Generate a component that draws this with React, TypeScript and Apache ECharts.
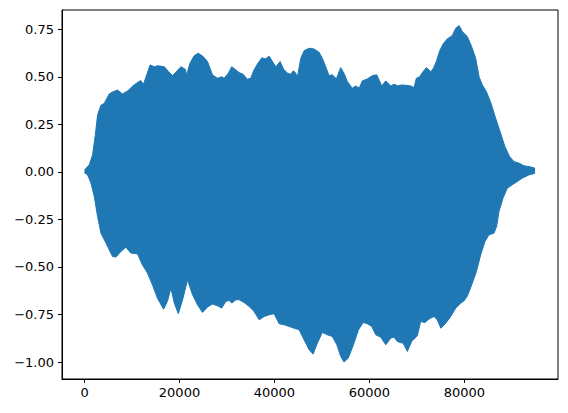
import React, { useEffect, useRef } from "react";
import * as echarts from "echarts";

// Upper envelope of the waveform (sample index, amplitude)
const upperX = [0, 1000, 1700, 2250, 2750, 3450, 4150, 5200, 5900, 6950, 8000, 9050, 10100, 11150, 11850, 12400, 13100, 13800, 14700, 15400, 16800, 17700, 18500, 19250, 20300, 21200, 21500, 22200, 23100, 23950, 25000, 25900, 26950, 28000, 28900, 29400, 30300, 31000, 31900, 32550, 33400, 34300, 35000, 35700, 36400, 37350, 38050, 38900, 39600, 40300, 41200, 41900, 42750, 43450, 43950, 44350, 44850, 45550, 46250, 47300, 48350, 49400, 50100, 50800, 51500, 52200, 53050, 53950, 54650, 55350, 56400, 57150, 57850, 58500, 59600, 60650, 61550, 62050, 62600, 63450, 64500, 65200, 65900, 66950, 68700, 69400, 69900, 70600, 71300, 72000, 72950, 73500, 74100, 74800, 75500, 76400, 77450, 78200, 78900, 79600, 80650, 81550, 82400, 83100, 83800, 84650, 85550, 86600, 87650, 88550, 89550, 90450, 91500, 92550, 94000, 94900];
const upperY = [0.01, 0.037, 0.09, 0.19, 0.3, 0.35, 0.36, 0.41, 0.42, 0.43, 0.41, 0.425, 0.45, 0.47, 0.48, 0.46, 0.51, 0.562, 0.553, 0.558, 0.553, 0.527, 0.506, 0.524, 0.553, 0.54, 0.51, 0.571, 0.611, 0.624, 0.606, 0.58, 0.51, 0.492, 0.5, 0.492, 0.519, 0.553, 0.536, 0.522, 0.513, 0.487, 0.492, 0.536, 0.566, 0.6, 0.594, 0.608, 0.58, 0.553, 0.58, 0.541, 0.519, 0.513, 0.531, 0.524, 0.5, 0.597, 0.637, 0.65, 0.646, 0.629, 0.597, 0.553, 0.506, 0.51, 0.489, 0.548, 0.519, 0.475, 0.44, 0.452, 0.44, 0.478, 0.489, 0.506, 0.51, 0.483, 0.452, 0.478, 0.452, 0.461, 0.453, 0.457, 0.452, 0.443, 0.492, 0.5, 0.527, 0.548, 0.527, 0.545, 0.58, 0.636, 0.671, 0.699, 0.716, 0.755, 0.769, 0.737, 0.711, 0.658, 0.597, 0.5, 0.457, 0.422, 0.366, 0.282, 0.203, 0.133, 0.08, 0.054, 0.046, 0.032, 0.026, 0.019];

// Lower envelope of the waveform (sample index, amplitude)
const lowerX = [0, 650, 1350, 2050, 2750, 3450, 4350, 5200, 5900, 6600, 7650, 8700, 9750, 11150, 12200, 13250, 14300, 15350, 16650, 17450, 18200, 18900, 19750, 20650, 21700, 22750, 23800, 24850, 25900, 26950, 28000, 28900, 29750, 30450, 31000, 31900, 32550, 33600, 34700, 35700, 36800, 37850, 38900, 39950, 41000, 42050, 43100, 44150, 45200, 46250, 47300, 48150, 49050, 50100, 51150, 52200, 53150, 53950, 54650, 55550, 56650, 57700, 58700, 59600, 60500, 61350, 62400, 63450, 64500, 65200, 65900, 66600, 67100, 68000, 68900, 70100, 70800, 71700, 72550, 73600, 74300, 75050, 76100, 77150, 78200, 79250, 79950, 80650, 81550, 82550, 83450, 84350, 85200, 86250, 86800, 87300, 88150, 89050, 90100, 91150, 92200, 93600, 94900];
const lowerY = [-0.005, -0.016, -0.059, -0.13, -0.235, -0.322, -0.366, -0.41, -0.445, -0.448, -0.419, -0.396, -0.427, -0.431, -0.489, -0.532, -0.594, -0.664, -0.722, -0.681, -0.611, -0.69, -0.746, -0.673, -0.568, -0.646, -0.699, -0.739, -0.711, -0.695, -0.704, -0.716, -0.681, -0.676, -0.69, -0.673, -0.672, -0.687, -0.708, -0.734, -0.778, -0.76, -0.751, -0.746, -0.799, -0.804, -0.813, -0.822, -0.83, -0.883, -0.935, -0.958, -0.9, -0.844, -0.857, -0.865, -0.909, -0.97, -1.0, -0.979, -0.909, -0.83, -0.792, -0.799, -0.813, -0.857, -0.869, -0.909, -0.874, -0.869, -0.892, -0.898, -0.9, -0.944, -0.892, -0.862, -0.787, -0.792, -0.774, -0.76, -0.778, -0.822, -0.795, -0.76, -0.716, -0.69, -0.678, -0.652, -0.594, -0.524, -0.436, -0.366, -0.331, -0.322, -0.287, -0.209, -0.138, -0.086, -0.068, -0.051, -0.033, -0.016, -0.007];

const xTicks = [0, 20000, 40000, 60000, 80000];
const yTicks = [-1, -0.75, -0.5, -0.25, 0, 0.25, 0.5, 0.75];

const BLUE = "#1f77b4";

export default function App() {
  const ref = useRef<HTMLDivElement>(null);
  useEffect(() => {
    if (!ref.current) return;
    const chart = echarts.init(ref.current, null, { renderer: "svg" });
    const labelStyle = {
      color: "#000",
      fontFamily: "DejaVu Sans",
      fontSize: 13,
    };
    chart.setOption({
      animation: false,
      backgroundColor: "#fff",
      grid: {
        left: 62,
        top: 10,
        width: 496,
        height: 369,
        show: true,
        borderColor: "#000",
        borderWidth: 1,
        backgroundColor: "transparent",
        containLabel: false,
      },
      xAxis: {
        type: "value",
        min: -4750,
        max: 99735,
        splitLine: { show: false },
        axisLine: { show: true, onZero: false, lineStyle: { color: "#000", width: 1 } },
        axisTick: { show: true, length: 4, lineStyle: { color: "#000", width: 1 }, customValues: xTicks },
        axisLabel: {
          ...labelStyle,
          margin: 7,
          customValues: xTicks,
          formatter: (v: number) => String(v),
        },
      },
      yAxis: {
        type: "value",
        min: -1.089,
        max: 0.851,
        splitLine: { show: false },
        axisLine: { show: true, onZero: false, lineStyle: { color: "#000", width: 1 } },
        axisTick: { show: true, length: 4, lineStyle: { color: "#000", width: 1 }, customValues: yTicks },
        axisLabel: {
          ...labelStyle,
          margin: 8,
          customValues: yTicks,
          formatter: (v: number) => v.toFixed(2).replace("-", "\u2212"),
        },
      },
      series: [
        {
          type: "line",
          data: lowerX.map((x, i) => [x, lowerY[i]]),
          showSymbol: false,
          silent: true,
          lineStyle: { color: BLUE, width: 1 },
          areaStyle: { color: BLUE, opacity: 1, origin: 0.006 },
        },
        {
          type: "line",
          data: upperX.map((x, i) => [x, upperY[i]]),
          showSymbol: false,
          silent: true,
          lineStyle: { color: BLUE, width: 1 },
          areaStyle: { color: BLUE, opacity: 1, origin: -0.003 },
        },
      ],
    });
    return () => chart.dispose();
  }, []);
  return (
    <div
      ref={ref}
      style={{ position: "absolute", left: 0, top: 0, width: 568, height: 413 }}
    />
  );
}
